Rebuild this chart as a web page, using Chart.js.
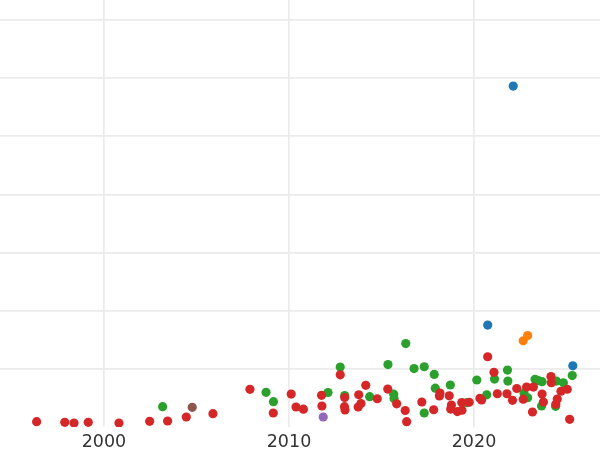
<!DOCTYPE html>
<html><head><meta charset="utf-8">
<script src="https://cdn.jsdelivr.net/npm/chart.js@4"></script>
<style>html,body{margin:0;padding:0;background:#fff}canvas{display:block}</style>
</head><body>
<canvas id="c" width="600" height="450"></canvas>
<script>
const xTicks = [2000, 2010, 2020];
const yGrid = [10, 20, 30, 40, 50, 60, 70];

const redYears = [1996.36,1997.88,1998.38,1999.15,2000.81,2002.47,2003.44,2004.45,2005.89,2007.89,2009.15,2010.12,2010.38,2010.78,2011.76,2011.78,2012.77,2013.01,2013.00,2013.03,2013.77,2013.74,2013.89,2014.15,2014.77,2015.34,2015.82,2016.28,2016.36,2017.18,2017.82,2018.16,2018.13,2018.66,2018.78,2018.74,2019.10,2019.34,2019.35,2019.74,2020.32,2020.41,2020.74,2021.08,2021.26,2021.78,2022.08,2022.31,2022.66,2022.84,2023.21,2023.16,2023.68,2023.75,2024.16,2024.18,2024.50,2024.42,2024.70,2025.04,2025.17];
const redValues = [0.91,0.81,0.69,0.81,0.69,0.98,1.03,1.72,2.29,6.48,2.41,5.67,3.44,3.06,5.45,3.61,8.97,5.07,3.49,2.92,5.55,3.44,4.04,7.16,4.86,6.53,3.99,2.84,0.91,4.30,2.97,5.84,5.33,5.36,3.78,3.09,2.66,4.21,2.89,4.26,4.93,4.64,12.08,9.40,5.72,5.72,4.59,6.62,4.78,6.87,6.87,2.58,5.67,4.30,8.68,7.61,4.81,3.90,6.15,6.49,1.32];

const greenYears = [2003.17,2008.76,2009.16,2012.11,2012.77,2013.01,2014.36,2015.35,2015.66,2015.68,2016.31,2016.76,2017.31,2017.31,2017.85,2017.91,2018.72,2019.61,2020.15,2020.69,2021.11,2021.81,2021.83,2022.70,2022.90,2023.30,2023.48,2023.68,2023.65,2024.45,2024.83,2024.41,2025.31];
const greenValues = [3.49,5.96,4.35,5.93,10.31,5.41,5.21,10.74,5.64,4.90,14.35,10.05,10.36,2.41,9.05,6.67,7.22,4.18,8.08,5.53,8.25,9.79,7.90,5.84,5.03,8.20,7.96,7.79,3.61,7.90,7.61,3.56,8.85];

const blueYears = [2020.74,2022.12,2025.34];
const blueValues = [17.53,58.64,10.53];

const orangeYears = [2022.66,2022.90];
const orangeValues = [14.83,15.72];

const purpleYears = [2011.85];
const purpleValues = [1.72];

const brownYears = [2004.77];
const brownValues = [3.38];

function pts(xs, ys) { return xs.map((x, i) => ({x: x, y: ys[i]})); }

const series = [
  {name: 'blue', xs: blueYears, ys: blueValues, color: '#1f77b4'},
  {name: 'orange', xs: orangeYears, ys: orangeValues, color: '#ff7f0e'},
  {name: 'purple', xs: purpleYears, ys: purpleValues, color: '#9467bd'},
  {name: 'brown', xs: brownYears, ys: brownValues, color: '#8c564b'},
  {name: 'red', xs: redYears, ys: redValues, color: '#d62728'},
  {name: 'green', xs: greenYears, ys: greenValues, color: '#2ca02c'}
];

new Chart(document.getElementById('c'), {
  type: 'scatter',
  data: {
    datasets: series.map(s => ({
      label: s.name,
      data: pts(s.xs, s.ys),
      backgroundColor: s.color,
      borderWidth: 0,
      pointRadius: 4.6,
      pointHoverRadius: 4.6
    }))
  },
  options: {
    responsive: false,
    animation: false,
    devicePixelRatio: 1,
    layout: {padding: 0, autoPadding: false},
    plugins: {legend: {display: false}, tooltip: {enabled: false}},
    scales: {
      x: {
        type: 'linear',
        min: 1994.38,
        max: 2026.81,
        afterBuildTicks: (scale) => { scale.ticks = xTicks.map(v => ({value: v})); },
        afterFit: (scale) => { scale.height = 23; },
        grid: {color: '#ebebeb', lineWidth: 1.7, drawTicks: false},
        border: {display: false},
        ticks: {
          padding: 5,
          color: '#333333',
          font: {family: 'DejaVu Sans', size: 17.5},
          callback: (v) => String(v)
        }
      },
      y: {
        type: 'linear',
        min: 0,
        max: 73.44,
        afterBuildTicks: (scale) => { scale.ticks = yGrid.map(v => ({value: v})); },
        grid: {color: '#ebebeb', lineWidth: 1.7, drawTicks: false},
        border: {display: false},
        ticks: {display: false}
      }
    }
  }
});
</script>
</body></html>
